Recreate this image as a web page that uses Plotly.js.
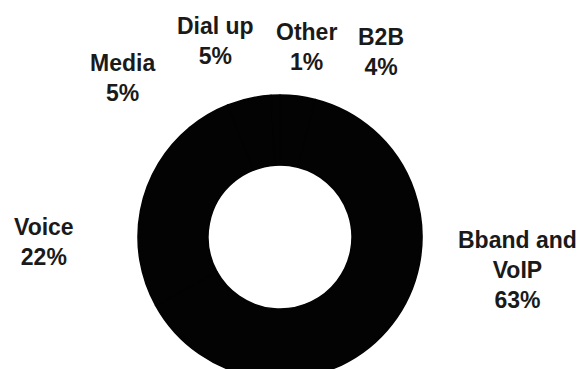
<!DOCTYPE html>
<html>
<head>
<meta charset="utf-8">
<script src="https://cdn.plot.ly/plotly-3.0.1.min.js"></script>
<style>
html, body { margin: 0; padding: 0; overflow: hidden; background: #fff; }
#chart { width: 583px; height: 400px; }
</style>
</head>
<body>
<div id="chart"></div>
<script>
// Segments, clockwise from 12 o'clock
var categories = ['B2B', 'Bband and VoIP', 'Voice', 'Media', 'Dial up', 'Other'];
var shares = [4, 63, 22, 5, 5, 1];
var labelLines = ['B2B', 'Bband and<br>VoIP', 'Voice', 'Media', 'Dial up', 'Other'];

// Label placement (pixel centers in the 583-wide figure)
var labelPos = [[381, 52], [517, 270], [44, 242], [122, 78], [215, 41], [306, 47]];

var W = 583, H = 400;
var cx = 280, cy = 237, R = 142;

var annotations = categories.map(function (c, i) {
  return {
    xref: 'paper', yref: 'paper',
    x: labelPos[i][0] / W, y: 1 - labelPos[i][1] / H,
    xanchor: 'center', yanchor: 'middle',
    text: labelLines[i] + '<br>' + shares[i] + '%',
    showarrow: false,
    align: 'center',
    font: { family: 'Liberation Sans, Arial, sans-serif', size: 23, color: '#1a1a1a', weight: 'bold' }
  };
});

var trace = {
  type: 'pie',
  labels: categories,
  values: shares,
  sort: false,
  direction: 'clockwise',
  rotation: 0,
  hole: 0.507,
  textinfo: 'none',
  hoverinfo: 'skip',
  marker: { colors: categories.map(function () { return '#030303'; }), line: { width: 1.5, color: '#030303' } },
  domain: { x: [(cx - R) / W, (cx + R) / W], y: [1 - (cy + R) / H, 1 - (cy - R) / H] },
  showlegend: false
};

Plotly.newPlot('chart', [trace], {
  width: W, height: H,
  margin: { l: 0, r: 0, t: 0, b: 0 },
  paper_bgcolor: '#ffffff',
  plot_bgcolor: '#ffffff',
  showlegend: false,
  annotations: annotations
}, { staticPlot: true, displayModeBar: false });
</script>
</body>
</html>
